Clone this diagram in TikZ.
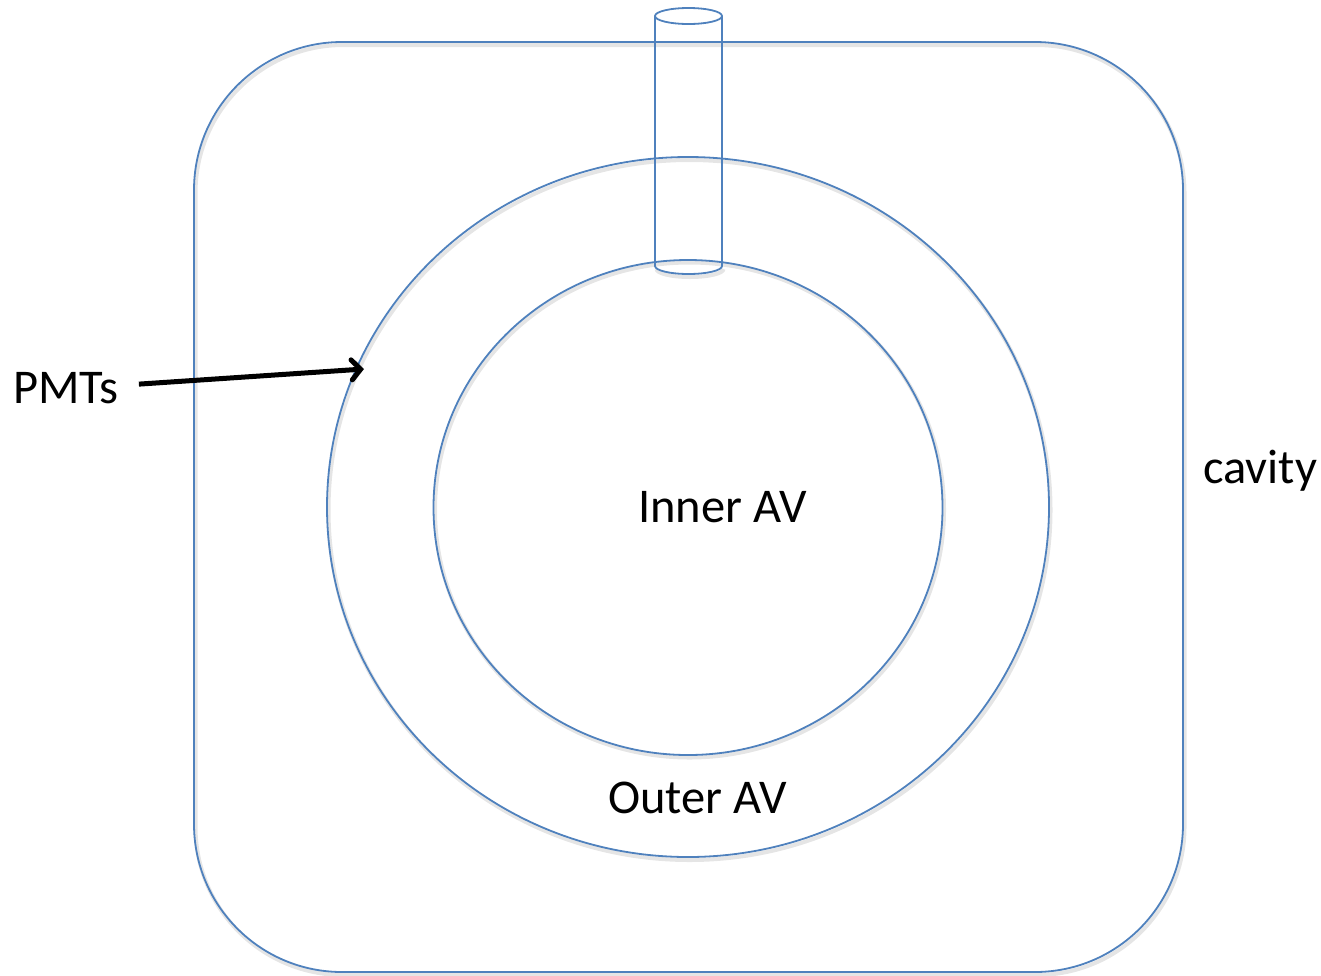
\documentclass[tikz,border=0pt]{standalone}
\usepackage{fontspec}
\setmainfont{Carlito}
\usetikzlibrary{shapes.geometric,arrows.meta}
\definecolor{avblue}{RGB}{79,129,189}
\tikzset{
  outline/.style={draw=avblue, line width=1.8pt},
  soft/.style={draw=black, opacity=0.10, line width=4pt},
  lbl/.style={font=\fontsize{48.5}{58}\selectfont, inner sep=0pt, anchor=base west},
  vessel/.style={ellipse, inner sep=0pt, outer sep=0pt},
}
\begin{document}
\begin{tikzpicture}[x=1pt, y=-1pt]
  \useasboundingbox (0,0) rectangle (1321,975);

  % faint shadows beneath the outlines
  \begin{scope}[shift={(1.5,3)}]
    \draw[soft, rounded corners=148pt] (194,42) rectangle (1183,972);
    \draw[soft] (688,507) ellipse [x radius=361pt, y radius=350pt];
    \draw[soft] (688,507) ellipse [x radius=254.5pt, y radius=247.5pt];
    \draw[soft] (655,266) arc[start angle=180, end angle=360, x radius=33.5pt, y radius=8pt];
  \end{scope}

  % cavity
  \draw[outline, rounded corners=148pt] (194,42) rectangle (1183,972);

  % outer and inner acrylic vessels
  \node[vessel, outline, minimum width=722pt, minimum height=700pt] (outer) at (688,507) {};
  \node[vessel, outline, minimum width=509pt, minimum height=495pt] (inner) at (688,507.5) {};

  % neck cylinder
  \draw[outline] (688.5,16) ellipse [x radius=33.5pt, y radius=8pt];
  \draw[outline] (655,16) -- (655,266)
    arc[start angle=180, end angle=360, x radius=33.5pt, y radius=8pt]
    -- (722,16);

  % labels
  \node[lbl] (innerlbl) at (638,522) {Inner AV};
  \node[lbl] (outerlbl) at (608,813) {Outer AV};
  \node[lbl] (cavlbl) at (1203,483) {cavity};
  \node[lbl] (pmts) at (13,403) {PMTs};

  % pointer to the PMT surface
  \coordinate (pmttip) at (364,369);
  \draw[line width=5pt, -{Straight Barb[length=9pt, width=20pt, line cap=round]}]
    ([xshift=20pt, yshift=3.5pt]pmts.east) -- (pmttip);
\end{tikzpicture}
\end{document}
